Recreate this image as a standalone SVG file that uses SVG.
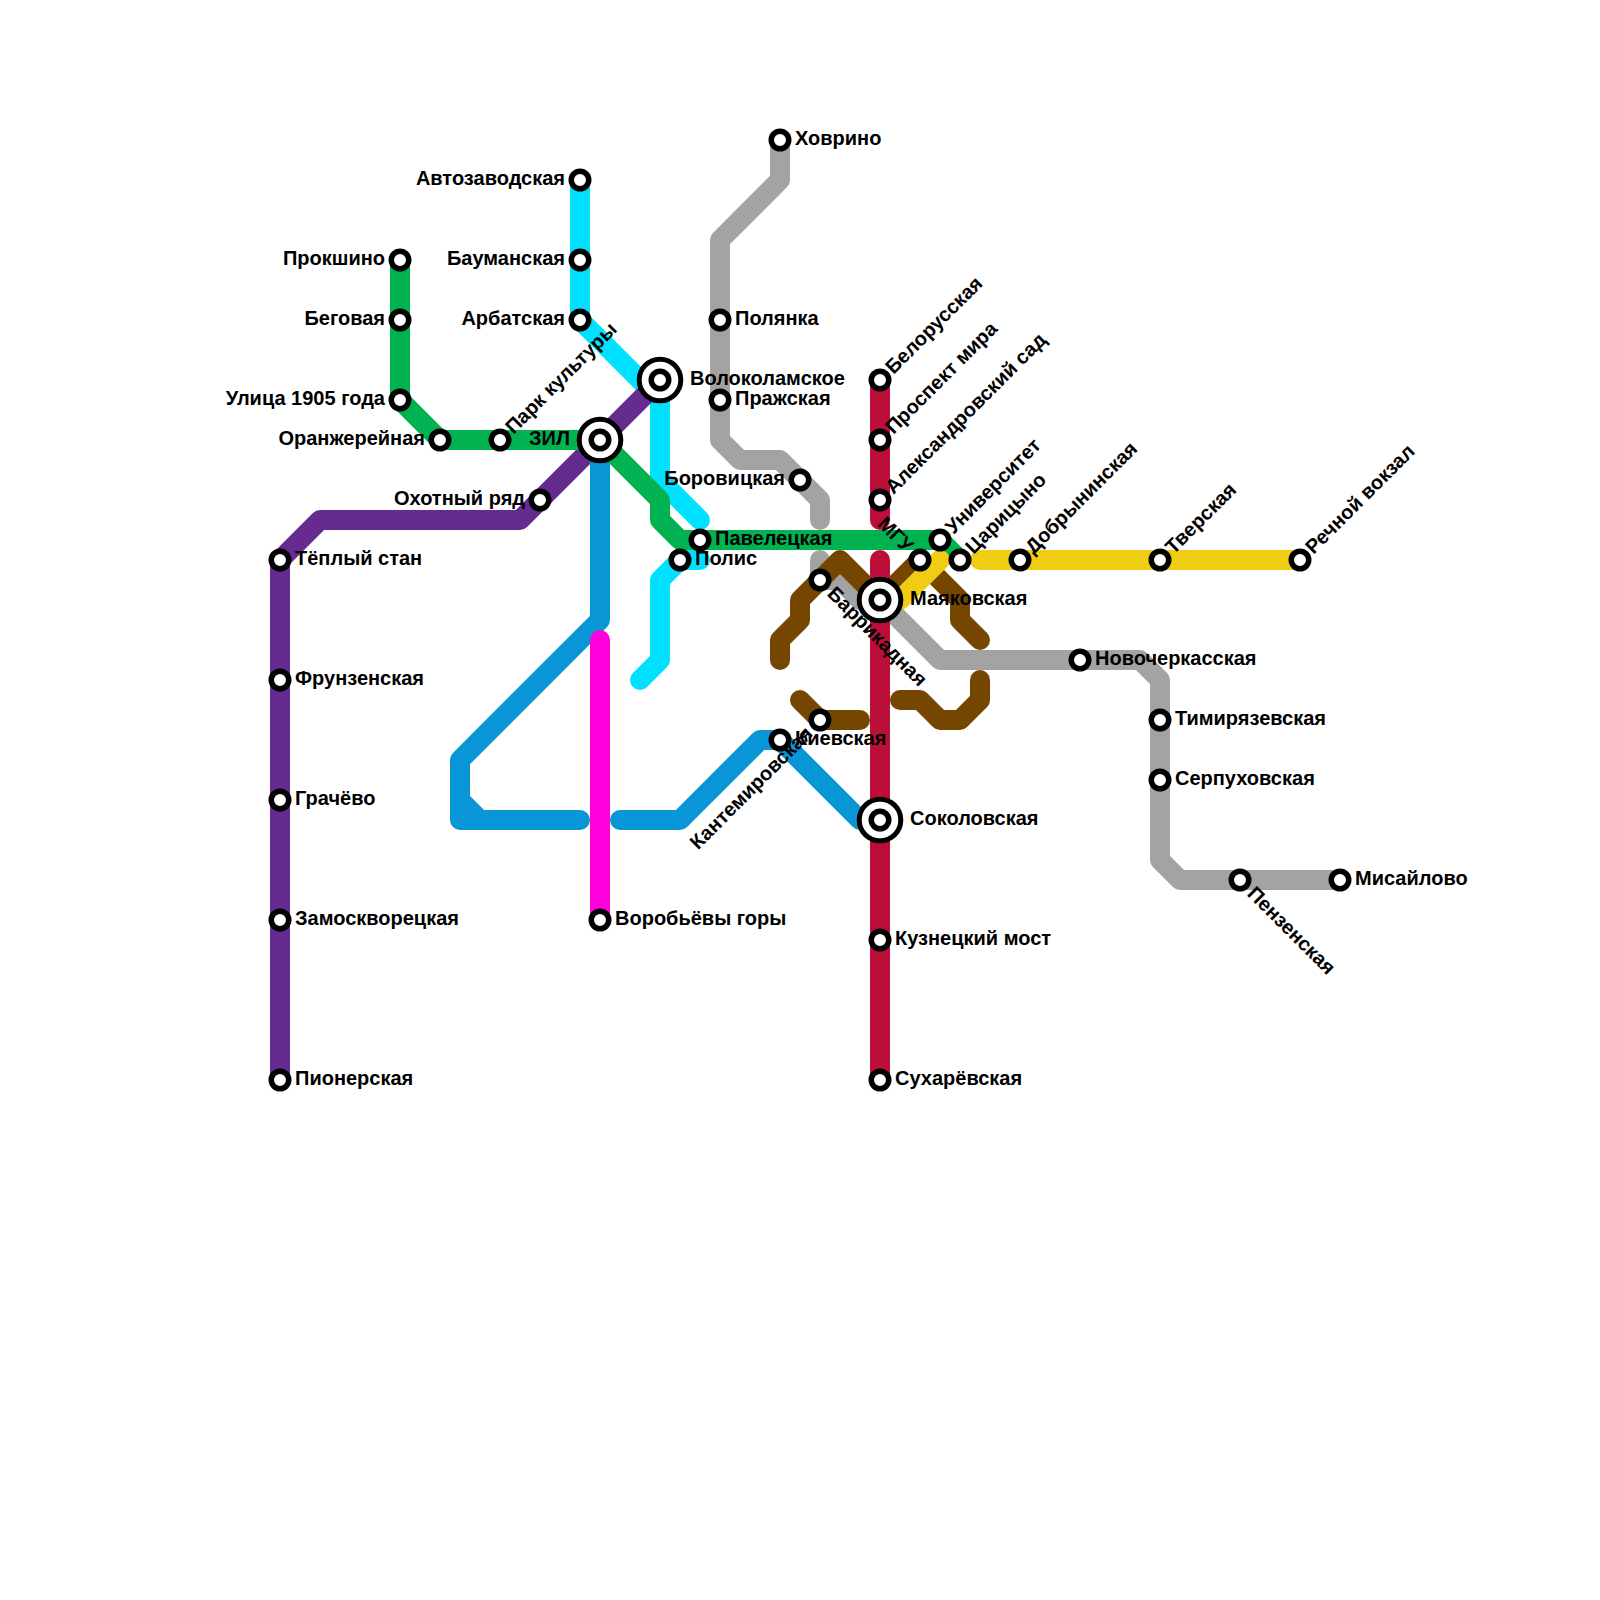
<svg xmlns="http://www.w3.org/2000/svg" width="1600" height="1600" viewBox="0 0 1600 1600">
<style>
.l{fill:none;stroke-width:20;stroke-linecap:round;stroke-linejoin:round}
.s{fill:#fff;stroke:#000;stroke-width:5.5}
.o{fill:#fff;stroke:#000;stroke-width:5}
text{font-family:"Liberation Sans",Arial,sans-serif;font-weight:700;font-size:20px;fill:#000}
.e{text-anchor:end}
</style>
<defs>
<circle id="st" r="8.75" class="s"/>
<circle id="ic" r="20.8" class="o"/>
</defs>
<rect width="1600" height="1600" fill="#fff"/>
<g id="connectors">
<path class="l" stroke="#a3a3a3" d="M780 140V180L720 240V440L740 460H780L820 500V520"/>
<path class="l" stroke="#a3a3a3" d="M820 560V580H840L860 600H880L940 660H1140L1160 680V860L1180 880H1340"/>
<path class="l" stroke="#00e1ff" d="M580 180V320L660 400V480L700 520"/>
<path class="l" stroke="#00e1ff" d="M640 680L660 660V580L680 560H700"/>
<path class="l" stroke="#652b91" d="M280 1080V560L320 520H520L600 440L660 380"/>
<path class="l" stroke="#0996d7" d="M600 440V620L460 760V820H580M460 800L480 820"/>
<path class="l" stroke="#0996d7" d="M620 820H680L760 740H780L860 820H880"/>
<path class="l" stroke="#ff00dc" d="M600 640V920"/>
<path class="l" stroke="#754600" d="M780 660V640L800 620V600L840 560L880 600L920 560L960 600V620L980 640"/>
<path class="l" stroke="#754600" d="M800 700L820 720H860"/>
<path class="l" stroke="#754600" d="M900 700H920L940 720H960L980 700V680"/>
<path class="l" stroke="#bb0f3a" d="M880 380V520M880 560V1080"/>
<path class="l" stroke="#00b250" d="M400 260V400L440 440H600L660 500V520L680 540H940L960 560"/>
<path class="l" stroke="#f0cd14" d="M880 600H900L940 560M980 560H1300"/>
</g>
<g id="n-avtozavodskaya"><use href="#st" x="580" y="180"/><text class="e" x="565" y="185">Автозаводская</text></g>
<g id="n-baumanskaya"><use href="#st" x="580" y="260"/><text class="e" x="565" y="265">Бауманская</text></g>
<g id="n-arbatskaya"><use href="#st" x="580" y="320"/><text class="e" x="565" y="325">Арбатская</text></g>
<g id="n-prokshino"><use href="#st" x="400" y="260"/><text class="e" x="385" y="265">Прокшино</text></g>
<g id="n-begovaya"><use href="#st" x="400" y="320"/><text class="e" x="385" y="325">Беговая</text></g>
<g id="n-ulitsa1905"><use href="#st" x="400" y="400"/><text class="e" x="385" y="405">Улица 1905 года</text></g>
<g id="n-oranzhereynaya"><use href="#st" x="440" y="440"/><text class="e" x="425" y="445">Оранжерейная</text></g>
<g id="n-park"><use href="#st" x="500" y="440"/><text x="513" y="446" transform="rotate(-45 500 440)">Парк культуры</text></g>
<g id="n-okhotny"><use href="#st" x="540" y="500"/><text class="e" x="525" y="505">Охотный ряд</text></g>
<g id="n-zil"><use href="#ic" x="600" y="440"/><use href="#st" x="600" y="440"/><text class="e" x="570" y="445">ЗИЛ</text></g>
<g id="n-volokolamskoe"><use href="#ic" x="660" y="380"/><use href="#st" x="660" y="380"/><text x="690" y="385">Волоколамское</text></g>
<g id="n-teply"><use href="#st" x="280" y="560"/><text x="295" y="565">Тёплый стан</text></g>
<g id="n-frunzenskaya"><use href="#st" x="280" y="680"/><text x="295" y="685">Фрунзенская</text></g>
<g id="n-grachevo"><use href="#st" x="280" y="800"/><text x="295" y="805">Грачёво</text></g>
<g id="n-zamoskvoretskaya"><use href="#st" x="280" y="920"/><text x="295" y="925">Замоскворецкая</text></g>
<g id="n-pionerskaya"><use href="#st" x="280" y="1080"/><text x="295" y="1085">Пионерская</text></g>
<g id="n-vorobyovy"><use href="#st" x="600" y="920"/><text x="615" y="925">Воробьёвы горы</text></g>
<g id="n-khovrino"><use href="#st" x="780" y="140"/><text x="795" y="145">Ховрино</text></g>
<g id="n-polyanka"><use href="#st" x="720" y="320"/><text x="735" y="325">Полянка</text></g>
<g id="n-prazhskaya"><use href="#st" x="720" y="400"/><text x="735" y="405">Пражская</text></g>
<g id="n-borovitskaya"><use href="#st" x="800" y="480"/><text class="e" x="785" y="485">Боровицкая</text></g>
<g id="n-paveletskaya"><use href="#st" x="700" y="540"/><text x="715" y="545">Павелецкая</text></g>
<g id="n-polis"><use href="#st" x="680" y="560"/><text x="695" y="565">Полис</text></g>
<g id="n-belorusskaya"><use href="#st" x="880" y="380"/><text x="893" y="386" transform="rotate(-45 880 380)">Белорусская</text></g>
<g id="n-prospekt"><use href="#st" x="880" y="440"/><text x="893" y="446" transform="rotate(-45 880 440)">Проспект мира</text></g>
<g id="n-aleksandrovsky"><use href="#st" x="880" y="500"/><text x="893" y="506" transform="rotate(-45 880 500)">Александровский сад</text></g>
<g id="n-mgu"><use href="#st" x="920" y="560"/><text class="e" x="905" y="566" transform="rotate(45 920 560)">МГУ</text></g>
<g id="n-universitet"><use href="#st" x="940" y="540"/><text x="953" y="546" transform="rotate(-45 940 540)">Университет</text></g>
<g id="n-tsaritsyno"><use href="#st" x="960" y="560"/><text x="973" y="566" transform="rotate(-45 960 560)">Царицыно</text></g>
<g id="n-dobryninskaya"><use href="#st" x="1020" y="560"/><text x="1033" y="566" transform="rotate(-45 1020 560)">Добрынинская</text></g>
<g id="n-tverskaya"><use href="#st" x="1160" y="560"/><text x="1173" y="566" transform="rotate(-45 1160 560)">Тверская</text></g>
<g id="n-rechnoy"><use href="#st" x="1300" y="560"/><text x="1313" y="566" transform="rotate(-45 1300 560)">Речной вокзал</text></g>
<g id="n-mayakovskaya"><use href="#ic" x="880" y="600"/><use href="#st" x="880" y="600"/><text x="910" y="605">Маяковская</text></g>
<g id="n-barrikadnaya"><use href="#st" x="820" y="580"/><text x="835" y="586" transform="rotate(45 820 580)">Баррикадная</text></g>
<g id="n-novocherkasskaya"><use href="#st" x="1080" y="660"/><text x="1095" y="665">Новочеркасская</text></g>
<g id="n-timiryazevskaya"><use href="#st" x="1160" y="720"/><text x="1175" y="725">Тимирязевская</text></g>
<g id="n-serpukhovskaya"><use href="#st" x="1160" y="780"/><text x="1175" y="785">Серпуховская</text></g>
<g id="n-penzenskaya"><use href="#st" x="1240" y="880"/><text x="1255" y="886" transform="rotate(45 1240 880)">Пензенская</text></g>
<g id="n-misaylovo"><use href="#st" x="1340" y="880"/><text x="1355" y="885">Мисайлово</text></g>
<g id="n-sokolovskaya"><use href="#ic" x="880" y="820"/><use href="#st" x="880" y="820"/><text x="910" y="825">Соколовская</text></g>
<g id="n-kuznetsky"><use href="#st" x="880" y="940"/><text x="895" y="945">Кузнецкий мост</text></g>
<g id="n-sukharevskaya"><use href="#st" x="880" y="1080"/><text x="895" y="1085">Сухарёвская</text></g>
<g id="n-kievskaya"><use href="#st" x="780" y="740"/><text x="795" y="745">Киевская</text></g>
<g id="n-kantemirovskaya"><use href="#st" x="820" y="720"/><text class="e" x="805" y="726" transform="rotate(-45 820 720)">Кантемировская</text></g>
</svg>
